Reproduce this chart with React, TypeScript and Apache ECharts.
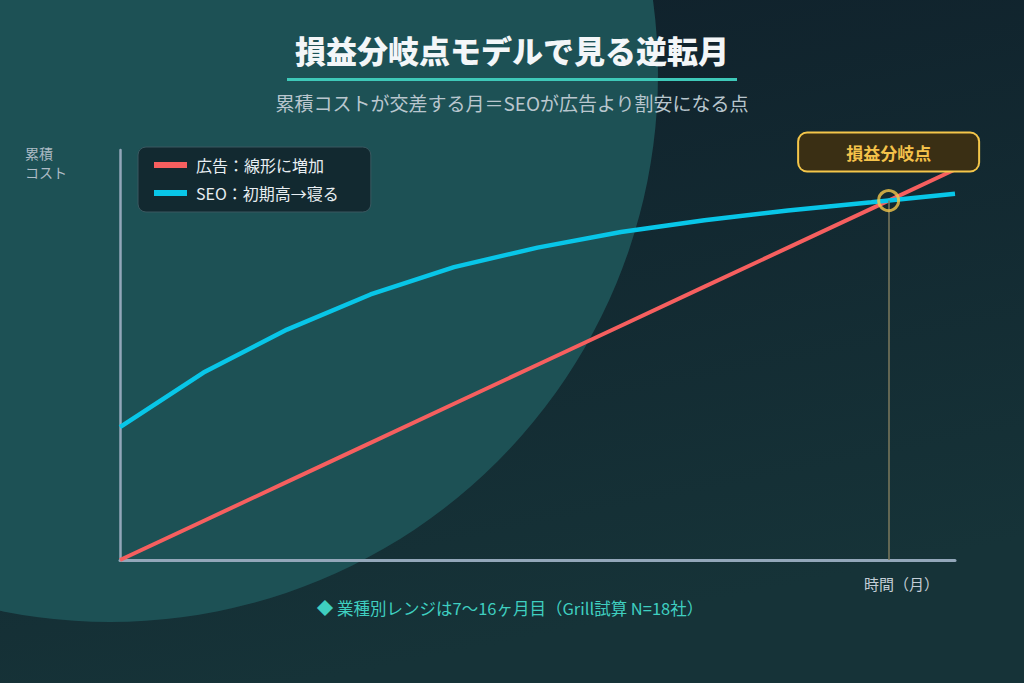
import { useEffect, useRef } from 'react';
import * as echarts from 'echarts';

// months 0..10
const months = [0, 1, 2, 3, 4, 5, 6, 7, 8, 9, 10];
const adCost = [0, 10, 20, 30, 40, 50, 60, 70, 80, 90, 100];
const seoCost = [34, 48, 59, 68, 75, 80, 84, 87, 89.5, 91.6, 93.8];

const legendAd = '広告：線形に増加';
const legendSeo = 'SEO：初期高→寝る';
const titleText = '損益分岐点モデルで見る逆転月';
const subText = '累積コストが交差する月＝SEOが広告より割安になる点';
const yLabel = '累積\nコスト';
const xLabel = '時間（月）';
const noteText = '◆ 業種別レンジは7〜16ヶ月目（Grill試算 N=18社）';
const breakLabel = '損益分岐点';

const FONT = '"Noto Sans CJK JP", "Noto Sans", sans-serif';

// first crossing of the two cumulative curves
function findCross(): [number, number] {
  for (let i = 1; i < months.length; i++) {
    const d0 = seoCost[i - 1] - adCost[i - 1];
    const d1 = seoCost[i] - adCost[i];
    if (d0 > 0 && d1 <= 0) {
      const t = d0 / (d0 - d1);
      const x = months[i - 1] + t * (months[i] - months[i - 1]);
      const y = adCost[i - 1] + t * (adCost[i] - adCost[i - 1]);
      return [x, y];
    }
  }
  return [months[months.length - 1], adCost[adCost.length - 1]];
}

export default function App() {
  const ref = useRef<HTMLDivElement>(null);

  useEffect(() => {
    if (!ref.current) return;
    document.body.style.margin = '0';
    const chart = echarts.init(ref.current, null, { renderer: 'svg' });
    const cross = findCross();

    chart.setOption({
      animation: false,
      backgroundColor: new echarts.graphic.LinearGradient(0, 0, 0.3, 1, [
        { offset: 0, color: '#0f1f2a' },
        { offset: 1, color: '#163338' },
      ]),
      textStyle: { fontFamily: FONT },
      title: [
        {
          text: titleText,
          left: 'center',
          top: 29,
          textStyle: { color: '#f3f6f8', fontSize: 31, fontWeight: 900, fontFamily: FONT },
        },
        {
          text: subText,
          left: 'center',
          top: 88,
          textStyle: { color: '#b9c6ce', fontSize: 19, fontWeight: 'normal', fontFamily: FONT },
        },
      ],
      graphic: [
        {
          type: 'circle',
          z: -1,
          silent: true,
          shape: { cx: 110, cy: 74, r: 548 },
          style: { fill: '#1d5155' },
        },
        {
          type: 'rect',
          silent: true,
          shape: { x: 287, y: 78, width: 450, height: 3 },
          style: { fill: '#3ec9b9' },
        },
        {
          type: 'text',
          left: 25,
          top: 143,
          style: { text: yLabel, fill: '#aebcc6', fontSize: 14, lineHeight: 19, fontFamily: FONT },
        },
        {
          type: 'text',
          x: 939,
          y: 583,
          style: {
            text: xLabel,
            fill: '#c3cdd6',
            fontSize: 15,
            align: 'right',
            verticalAlign: 'middle',
            fontFamily: FONT,
          },
        },
        {
          type: 'text',
          x: 510,
          y: 608,
          style: {
            text: noteText,
            fill: '#3fcfc0',
            fontSize: 16.5,
            align: 'center',
            verticalAlign: 'middle',
            fontFamily: FONT,
          },
        },
      ],
      legend: {
        orient: 'vertical',
        left: 138,
        top: 147,
        padding: [10, 32, 11, 16],
        itemGap: 12,
        itemWidth: 33,
        itemHeight: 6,
        icon: 'rect',
        backgroundColor: 'rgba(16,34,42,0.85)',
        borderColor: '#3a5860',
        borderWidth: 1,
        borderRadius: 8,
        textStyle: { color: '#e8eef2', fontSize: 16, fontFamily: FONT, padding: [0, 0, 0, 4] },
        data: [legendAd, legendSeo],
      },
      grid: { left: 120, right: 69, top: 150, bottom: 123, containLabel: false },
      xAxis: {
        type: 'value',
        min: 0,
        max: 10,
        axisLine: { show: true, lineStyle: { color: '#93a7ba', width: 3 } },
        axisTick: { show: false },
        axisLabel: { show: false },
        splitLine: { show: false },
      },
      yAxis: {
        type: 'value',
        min: 0,
        max: 105,
        axisLine: { show: true, lineStyle: { color: '#93a7ba', width: 2.5 } },
        axisTick: { show: false },
        axisLabel: { show: false },
        splitLine: { show: false },
      },
      series: [
        {
          name: legendAd,
          type: 'line',
          data: months.map((m, i) => [m, adCost[i]]),
          showSymbol: false,
          lineStyle: { color: '#f65f5f', width: 4 },
          itemStyle: { color: '#f65f5f' },
          z: 3,
          markLine: {
            silent: true,
            symbol: 'none',
            label: { show: false },
            lineStyle: { color: '#7d7a5e', width: 1.5, type: 'solid' },
            data: [[{ coord: [cross[0], cross[1]] }, { coord: [cross[0], 0] }]],
          },
        },
        {
          name: legendSeo,
          type: 'line',
          data: months.map((m, i) => [m, seoCost[i]]),
          showSymbol: false,
          lineStyle: { color: '#08c6e8', width: 4.5 },
          itemStyle: { color: '#08c6e8' },
          z: 4,
        },
        {
          name: 'breakeven',
          type: 'scatter',
          data: [cross],
          symbol: 'circle',
          symbolSize: 20,
          itemStyle: { color: 'rgba(0,0,0,0)', borderColor: '#f4c64a', borderWidth: 3 },
          z: 5,
          markPoint: {
            silent: true,
            symbol: 'rect',
            symbolSize: 0,
            data: [{ coord: [cross[0], 105] }],
            label: {
              show: true,
              position: 'inside',
              offset: [0, 2],
              formatter: breakLabel,
              color: '#f4c24a',
              fontSize: 17,
              fontWeight: 'bold',
              fontFamily: FONT,
              width: 179,
              height: 19,
              align: 'center',
              padding: [9, 0, 9, 0],
              backgroundColor: '#3a2f14',
              borderColor: '#f4c64a',
              borderWidth: 2,
              borderRadius: 8,
            },
          },
        },
      ],
    });

    return () => {
      chart.dispose();
    };
  }, []);

  return (
    <div
      ref={ref}
      style={{ position: 'absolute', left: 0, top: 0, width: 1024, height: 683 }}
    />
  );
}
